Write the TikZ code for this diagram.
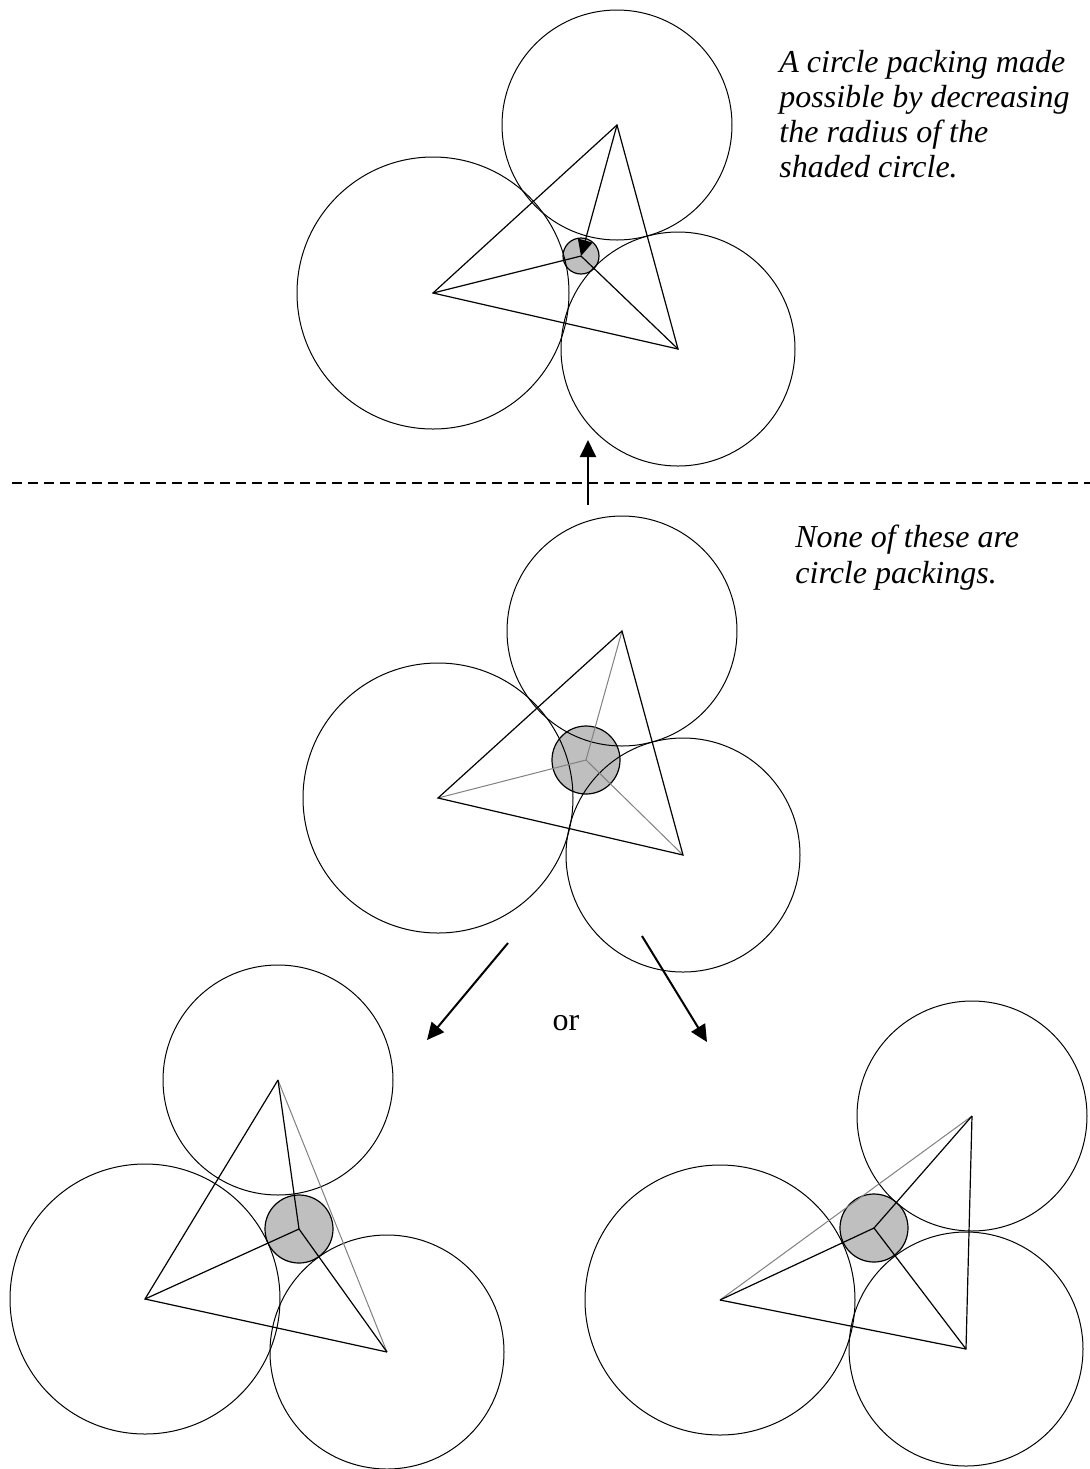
\documentclass[tikz,border=0pt]{standalone}
\usepackage{fontspec}
\setmainfont{Liberation Serif}
\usetikzlibrary{arrows.meta}
\begin{document}
\begin{tikzpicture}[x=0.5pt,y=-0.5pt,
  big/.style={circle,draw,line width=0.5pt,inner sep=0pt,outer sep=0pt,minimum size=#1},
  shade/.style={circle,draw,fill=black!25,line width=0.6pt,inner sep=0pt,outer sep=0pt,minimum size=#1},
  edge/.style={line width=0.6pt},
  spoke/.style={line width=0.5pt,draw=black!50},
  bigarrow/.style={line width=1pt,-{Triangle[width=8pt,length=8.5pt]}},
  note/.style={anchor=base west,inner sep=0pt,font=\itshape\fontsize{16}{17.5}\selectfont},
  plain/.style={anchor=base,inner sep=0pt,font=\fontsize{16}{17.5}\selectfont}]
\useasboundingbox (0,0) rectangle (1090,1469);
% ---------- top diagram ----------
\node[shade=18pt] (tS) at (581,256) {};
\node[big=115pt] (tA) at (617,125) {};
\node[big=136pt] (tB) at (433,293) {};
\node[big=117pt] (tC) at (678,349) {};
\draw[edge] (tA.center) -- (tB.center) -- (tC.center) -- cycle;
\draw[edge] (tB.center) -- (tS.center);
\draw[edge] (tC.center) -- (tS.center);
\draw[edge,-{Triangle[width=7.5pt,length=8pt]}] (tA.center) -- (tS.center);
\node[note] (t1) at (779,72) {A circle packing made};
\node[note] (t2) at (779,107) {possible by decreasing};
\node[note] (t3) at (779,142) {the radius of the};
\node[note] (t4) at (779,177) {shaded circle.};
% ---------- separator ----------
\coordinate (dL) at (12,483);
\coordinate (dR) at (1090,483);
\draw[line width=0.65pt,dash pattern=on 5pt off 3pt] (dL) -- (dR);
\coordinate (u0) at (588,505);
\coordinate (u1) at (588,440);
\draw[bigarrow] (u0) -- (u1);
% ---------- middle diagram ----------
\node[shade=34pt] (mS) at (586,760) {};
\node[big=115pt] (mA) at (622,631) {};
\node[big=135pt] (mB) at (438,798) {};
\node[big=117pt] (mC) at (683,855) {};
\draw[spoke] (mS.center) -- (mA.center);
\draw[spoke] (mS.center) -- (mB.center);
\draw[spoke] (mS.center) -- (mC.center);
\draw[edge] (mA.center) -- (mB.center) -- (mC.center) -- cycle;
\node[note] (n1) at (795,547) {None of these are};
\node[note] (n2) at (795,583) {circle packings.};
% ---------- arrows ----------
\coordinate (a0) at (508,943);
\coordinate (a1) at (427,1040);
\coordinate (b0) at (642,936);
\coordinate (b1) at (707,1042);
\draw[bigarrow] (a0) -- (a1);
\draw[bigarrow] (b0) -- (b1);
\node[plain] (or) at (566,1030) {or};
% ---------- bottom left ----------
\node[shade=34pt] (lS) at (299,1229) {};
\node[big=115pt] (lT) at (278,1080) {};
\node[big=135pt] (lL) at (145,1299) {};
\node[big=117pt] (lR) at (387,1352) {};
\draw[spoke] (lT.center) -- (lR.center);
\draw[edge] (lR.center) -- (lL.center) -- (lT.center);
\draw[edge] (lS.center) -- (lT.center);
\draw[edge] (lS.center) -- (lL.center);
\draw[edge] (lS.center) -- (lR.center);
% ---------- bottom right ----------
\node[shade=34pt] (rS) at (874,1228) {};
\node[big=115pt] (rT) at (972,1116) {};
\node[big=135pt] (rL) at (720,1300) {};
\node[big=117pt] (rR) at (966,1349) {};
\draw[spoke] (rL.center) -- (rT.center);
\draw[edge] (rT.center) -- (rR.center) -- (rL.center);
\draw[edge] (rS.center) -- (rT.center);
\draw[edge] (rS.center) -- (rL.center);
\draw[edge] (rS.center) -- (rR.center);
\end{tikzpicture}
\end{document}
